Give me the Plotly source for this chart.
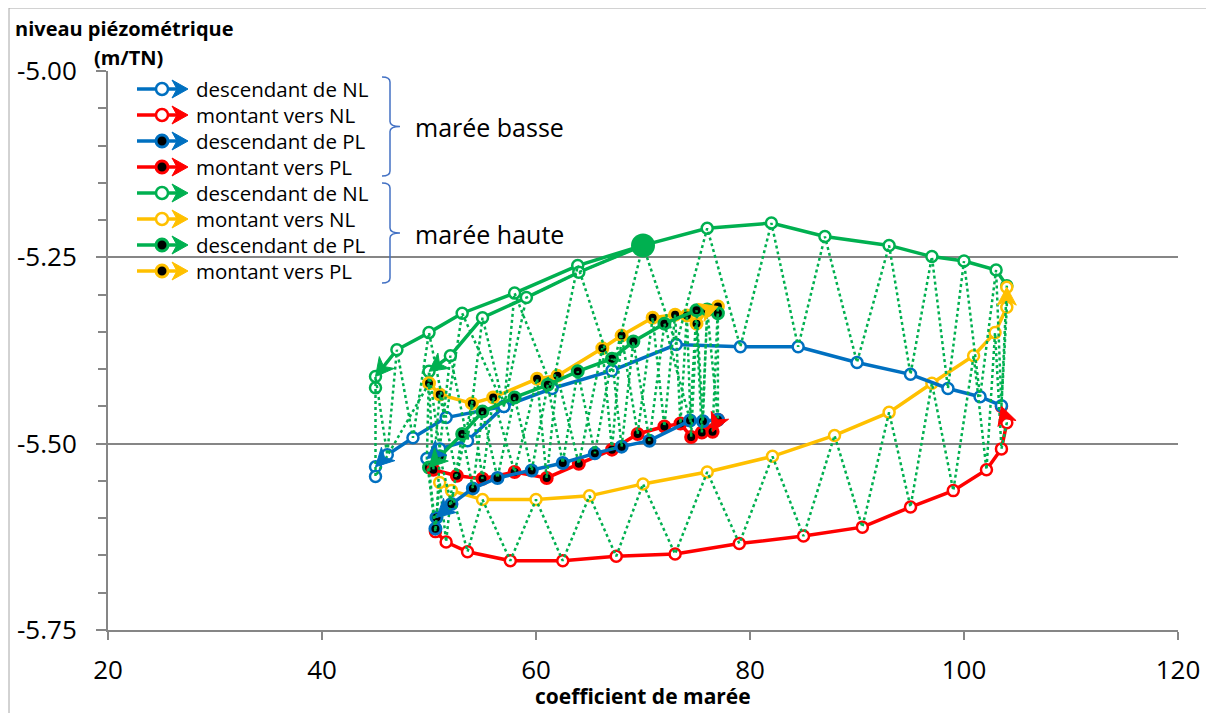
import math
import plotly.graph_objects as go

# ---------------- data ----------------
# marée basse
blue_nl_x = [103.5, 101.5, 98.5, 95.0, 90.0, 84.5, 79.1, 73.1, 67.1, 61.5, 57.0, 51.6, 48.5, 46.1, 45.0, 45.0]
blue_nl_y = [-5.449, -5.437, -5.426, -5.407, -5.391, -5.370, -5.370, -5.367, -5.402, -5.426, -5.450, -5.465, -5.492, -5.515, -5.531, -5.544]
blue_nl2_x = [57.0, 53.6, 51.0, 49.8]
blue_nl2_y = [-5.450, -5.496, -5.507, -5.520]
red_nl_x = [50.6, 51.6, 53.6, 57.6, 62.5, 67.5, 73.0, 79.0, 85.0, 90.5, 95.0, 99.0, 102.1, 103.5, 104.0, 103.5]
red_nl_y = [-5.618, -5.632, -5.645, -5.657, -5.657, -5.651, -5.648, -5.634, -5.624, -5.612, -5.585, -5.563, -5.535, -5.507, -5.472, -5.450]
blue_pl_x = [77.0, 75.6, 74.4, 70.6, 68.0, 65.5, 62.5, 59.6, 56.4, 54.1, 52.1, 50.7, 50.6]
blue_pl_y = [-5.468, -5.470, -5.469, -5.496, -5.504, -5.513, -5.526, -5.536, -5.546, -5.560, -5.581, -5.599, -5.614]
red_pl_x = [50.4, 52.6, 55.0, 58.0, 61.0, 64.0, 67.1, 69.5, 72.0, 73.5, 74.5, 75.5, 77.0, 76.5]
red_pl_y = [-5.535, -5.543, -5.547, -5.538, -5.546, -5.527, -5.508, -5.487, -5.477, -5.473, -5.491, -5.485, -5.468, -5.484]
# marée haute
green_nl_x = [104.0, 103.0, 100.0, 97.0, 93.0, 87.0, 82.0, 76.0, 70.0, 63.9, 58.0, 53.1, 50.0, 47.0, 45.0, 45.0]
green_nl_y = [-5.288, -5.267, -5.255, -5.249, -5.234, -5.222, -5.204, -5.211, -5.234, -5.261, -5.298, -5.325, -5.351, -5.374, -5.410, -5.425]
green_nl2_x = [70.0, 64.0, 59.1, 55.0, 52.0, 50.0]
green_nl2_y = [-5.234, -5.270, -5.304, -5.331, -5.382, -5.403]
yellow_nl_x = [51.0, 52.1, 55.0, 60.0, 65.0, 70.0, 76.0, 82.1, 87.9, 93.0, 97.0, 100.9, 102.9, 104.0, 104.0]
yellow_nl_y = [-5.552, -5.563, -5.575, -5.575, -5.570, -5.554, -5.538, -5.517, -5.489, -5.458, -5.419, -5.382, -5.351, -5.317, -5.290]
green_pl_x = [77.0, 76.0, 75.0, 72.0, 69.1, 67.1, 63.9, 61.1, 58.0, 55.0, 53.1, 51.0, 50.0]
green_pl_y = [-5.325, -5.320, -5.321, -5.339, -5.363, -5.386, -5.403, -5.421, -5.438, -5.457, -5.487, -5.517, -5.532]
yellow_pl_x = [50.0, 51.0, 54.0, 56.0, 60.1, 62.0, 66.2, 68.0, 70.9, 73.0, 74.1, 75.0, 76.0, 77.0]
yellow_pl_y = [-5.419, -5.434, -5.446, -5.438, -5.413, -5.409, -5.372, -5.355, -5.331, -5.327, -5.328, -5.339, -5.321, -5.316]
highlight_x = [70.0]
highlight_y = [-5.234]

legend_labels = ["descendant de NL", "montant vers NL", "descendant de PL", "montant vers PL",
                 "descendant de NL", "montant vers NL", "descendant de PL", "montant vers PL"]
group_labels = ["marée basse", "marée haute"]
x_range = [20, 120]
y_range = [-5.75, -5.0]
y_tick_vals = [-5.75, -5.50, -5.25, -5.00]
y_tick_text = ["-5.75", "-5.50", "-5.25", "-5.00"]
x_title = "coefficient de marée"
y_title_1 = "niveau piézométrique"
y_title_2 = "(m/TN)"

# ---------------- styles ----------------
BLUE, RED, GREEN, YELLOW = "#0070C0", "#FF0000", "#00B050", "#FFC000"
GRID = "#868686"
FONT = "Open Sans"

# the page adds an 8px body margin, so the figure is 8px smaller than the window
W, H = 1206, 705
L, R, T, B = 100, 36, 63, 83
PW, PH = 1070, 559
REF_L, REF_T = 108, 71   # plot-area origin in window pixels
SX = PW / (x_range[1] - x_range[0])      # pixels per x unit
SY = PH / (y_range[1] - y_range[0])      # pixels per y unit


def px(xp):
    return (xp - REF_L) / PW


def py(yp):
    return 1 - (yp - REF_T) / PH


def stealth(ux, uy, length=18, half=9.5, notch=5):
    """Arrow-head outline as pixel offsets from the tip (screen y down)."""
    n = math.hypot(ux, uy) or 1.0
    ux, uy = ux / n, uy / n
    nx, ny = -uy, ux
    return [(0, 0),
            (-length * ux + half * nx, -length * uy + half * ny),
            (-(length - notch) * ux, -(length - notch) * uy),
            (-length * ux - half * nx, -length * uy - half * ny)]


fig = go.Figure()
shapes = []
annotations = []

series = [
    (green_nl_x, green_nl_y, GREEN, False, -2),
    (yellow_nl_x, yellow_nl_y, YELLOW, False, -1),
    (red_nl_x, red_nl_y, RED, False, -1),
    (blue_nl_x, blue_nl_y, BLUE, False, -2),
    (green_nl2_x, green_nl2_y, GREEN, False, -1),
    (blue_nl2_x, blue_nl2_y, BLUE, False, -1),
    (yellow_pl_x, yellow_pl_y, YELLOW, True, -1),
    (green_pl_x, green_pl_y, GREEN, True, -1),
    (red_pl_x, red_pl_y, RED, True, -1),
    (blue_pl_x, blue_pl_y, BLUE, True, -2),
]

for xs, ys, col, filled, ai in series:
    fig.add_trace(go.Scatter(
        x=xs, y=ys, mode="lines+markers", showlegend=False, hoverinfo="skip",
        line=dict(color=col, width=3.5),
        marker=dict(symbol="circle", size=11,
                    color="black" if filled else "white",
                    line=dict(color=col, width=3 if filled else 2.5)),
    ))
    # arrow head at the end of each path, oriented along the last segment
    i = len(xs) + ai
    ux = (xs[i] - xs[i - 1]) * SX
    uy = -(ys[i] - ys[i - 1]) * SY
    pts = stealth(ux, uy)
    path = "M " + " L ".join(f"{xs[i] + ox / SX},{ys[i] - oy / SY}" for ox, oy in pts) + " Z"
    shapes.append(dict(type="path", xref="x", yref="y", path=path,
                       fillcolor=col, line=dict(color=col, width=1), layer="above"))

fig.add_trace(go.Scatter(
    x=highlight_x, y=highlight_y, mode="markers", showlegend=False, hoverinfo="skip",
    marker=dict(size=24, color=GREEN),
))


# dotted chronological link between low-tide and high-tide readings
def merge(a, b, rising):
    ax_, ay_ = a
    bx_, by_ = b
    i = j = 0
    ox, oy = [], []
    while i < len(ax_) or j < len(bx_):
        if j >= len(bx_):
            take_a = True
        elif i >= len(ax_):
            take_a = False
        else:
            take_a = (ax_[i] <= bx_[j]) if rising else (ax_[i] >= bx_[j])
        if take_a:
            ox.append(ax_[i]); oy.append(ay_[i]); i += 1
        else:
            ox.append(bx_[j]); oy.append(by_[j]); j += 1
    return ox, oy


phases = [
    ((blue_nl2_x, blue_nl2_y), (green_nl2_x, green_nl2_y), False),
    ((red_nl_x, red_nl_y), (yellow_nl_x, yellow_nl_y), True),
    ((green_nl_x, green_nl_y), (blue_nl_x, blue_nl_y), False),
    ((red_pl_x, red_pl_y), (yellow_pl_x, yellow_pl_y), True),
    ((green_pl_x, green_pl_y), (blue_pl_x, blue_pl_y), False),
]
dx, dy = [], []
for a, b, rising in phases:
    mx, my = merge(a, b, rising)
    dx += mx
    dy += my
fig.add_trace(go.Scatter(
    x=dx, y=dy, mode="lines", showlegend=False, hoverinfo="skip",
    line=dict(color=GREEN, width=2.5, dash="dot"),
))

# ---------------- manual legend ----------------
leg_cols = [BLUE, RED, BLUE, RED, GREEN, YELLOW, GREEN, YELLOW]
leg_filled = [False, False, True, True, False, False, True, True]
for k, (lab, col, filled) in enumerate(zip(legend_labels, leg_cols, leg_filled)):
    yc = 89 + 26 * k
    shapes.append(dict(type="line", xref="paper", yref="paper",
                       x0=px(137), x1=px(178), y0=py(yc), y1=py(yc),
                       line=dict(color=col, width=3.5)))
    r = 6
    shapes.append(dict(
        type="circle", xref="paper", yref="paper",
        x0=px(162 - r), x1=px(162 + r), y0=py(yc + r), y1=py(yc - r),
        fillcolor="black" if filled else "white",
        line=dict(color=col, width=3 if filled else 2.5),
    ))
    tip = 188
    pts = stealth(1, 0, length=16, half=9, notch=5)
    path = "M " + " L ".join(f"{px(tip + ox)},{py(yc + oy)}" for ox, oy in pts) + " Z"
    shapes.append(dict(type="path", xref="paper", yref="paper", path=path,
                       fillcolor=col, line=dict(color=col, width=1)))
    annotations.append(dict(
        x=px(194), y=py(yc), xref="paper", yref="paper", text=lab,
        showarrow=False, xanchor="left", yanchor="middle",
        font=dict(family=FONT, size=20.5, color="black"),
    ))


def brace(top, bot):
    mid = (top + bot) / 2
    xs = 390
    pts = (f"M {px(382)},{py(top)} Q {px(xs)},{py(top)} {px(xs)},{py(top + 5)} "
           f"L {px(xs)},{py(mid - 5)} Q {px(xs)},{py(mid)} {px(400)},{py(mid)} "
           f"Q {px(xs)},{py(mid)} {px(xs)},{py(mid + 5)} "
           f"L {px(xs)},{py(bot - 5)} Q {px(xs)},{py(bot)} {px(382)},{py(bot)}")
    return dict(type="path", xref="paper", yref="paper", path=pts,
                line=dict(color="#4472C4", width=1.5))


shapes.append(brace(77, 176))
shapes.append(brace(183, 283))
for lab, yc in zip(group_labels, [127, 234]):
    annotations.append(dict(
        x=px(413), y=py(yc), xref="paper", yref="paper", text=lab, showarrow=False,
        xanchor="left", yanchor="middle", font=dict(family=FONT, size=25, color="black"),
    ))

# outer chart border
shapes.append(dict(type="rect", xref="paper", yref="paper",
                   x0=px(9), x1=px(1210), y0=py(730), y1=py(8),
                   line=dict(color="#A6A6A6", width=1), layer="below"))

# axis titles
annotations.append(dict(x=px(124), y=py(28), xref="paper", yref="paper",
                        text=f"<b>{y_title_1}</b>", showarrow=False,
                        xanchor="center", yanchor="middle",
                        font=dict(family=FONT, size=20, color="black")))
annotations.append(dict(x=px(128), y=py(57), xref="paper", yref="paper",
                        text=f"<b>{y_title_2}</b>", showarrow=False,
                        xanchor="center", yanchor="middle",
                        font=dict(family=FONT, size=20, color="black")))
annotations.append(dict(x=0.5, y=py(696), xref="paper", yref="paper",
                        text=f"<b>{x_title}</b>", showarrow=False,
                        xanchor="center", yanchor="middle",
                        font=dict(family=FONT, size=21, color="black")))

fig.update_layout(
    width=W, height=H, margin=dict(l=L, r=R, t=T, b=B, autoexpand=False),
    paper_bgcolor="white", plot_bgcolor="white",
    font=dict(family=FONT, color="black"),
    showlegend=False, annotations=annotations, shapes=shapes,
    xaxis=dict(range=x_range, tickmode="linear", tick0=20, dtick=20,
               showgrid=False, zeroline=False, showline=True, linecolor=GRID,
               linewidth=2, ticks="outside", ticklen=8, tickwidth=2, tickcolor=GRID,
               tickfont=dict(family=FONT, size=26, color="black"),
               ticklabelstandoff=8),
    yaxis=dict(range=y_range, tickmode="array", tickvals=y_tick_vals,
               ticktext=y_tick_text, showgrid=True, gridcolor=GRID, gridwidth=2,
               zeroline=False, showline=True, linecolor=GRID, linewidth=2,
               ticks="outside", ticklen=10, tickwidth=2, tickcolor=GRID,
               tickfont=dict(family=FONT, size=26, color="black"),
               ticklabelstandoff=14,
               minor=dict(tickmode="linear", tick0=-5.75, dtick=0.05, ticks="outside",
                          ticklen=8, tickwidth=2, tickcolor=GRID, showgrid=False)),
)

fig.write_html("out.html")
